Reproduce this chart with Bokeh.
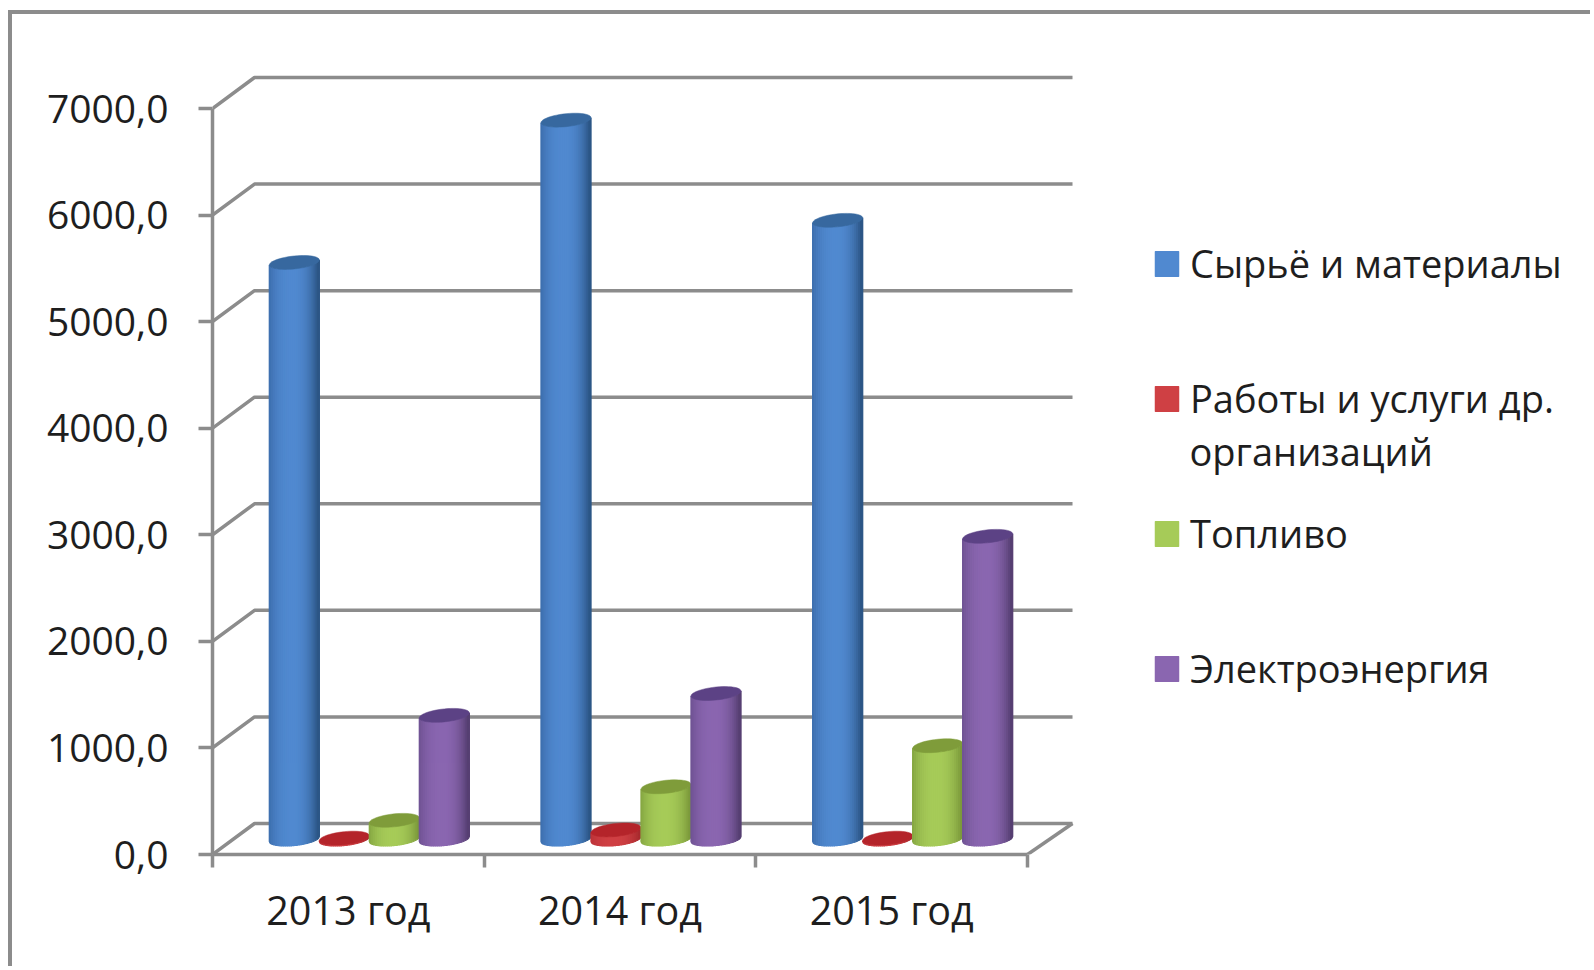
import math
from bokeh.embed import file_html
from bokeh.resources import INLINE
from bokeh.plotting import figure
from bokeh.models import (ColumnDataSource, FixedTicker, LinearAxis, Range1d, Legend, LegendItem, Label)

categories = ["2013 год", "2014 год", "2015 год"]
series_names = ["Сырьё и материалы", "Работы и услуги др.", "Топливо", "Электроэнергия"]
legend_continuation = "организаций"
raw_materials = [5410, 6745, 5805]
services = [8, 85, 8]
fuel = [175, 490, 875]
electricity = [1160, 1365, 2840]
value_ticks = [0, 1000, 2000, 3000, 4000, 5000, 6000, 7000]
value_labels = ["0,0", "1000,0", "2000,0", "3000,0", "4000,0", "5000,0", "6000,0", "7000,0"]

OX, OY = 12, 14
W, H = 1582, 956
FRAME_L, FRAME_R, FRAME_T, FRAME_B = 212, OX + W, 40, 854
CAT_PX = 271.67
VAL_PX = 746 / 7000
GRAY = "#8c8c8c"
TEXT = "#1e1e1e"
FONT = "Open Sans"

p = figure(width=W, height=H, output_backend="svg", toolbar_location=None,
           x_range=Range1d(0, (FRAME_R - FRAME_L) / CAT_PX),
           y_range=Range1d(0, (FRAME_B - FRAME_T) / VAL_PX),
           min_border_left=FRAME_L - OX, min_border_right=0,
           min_border_top=FRAME_T - OY, min_border_bottom=OY + H - FRAME_B,
           x_axis_location=None, y_axis_location=None)
p.margin = (10, 0, 0, 8)
p.styles = {"border-top": f"4px solid {GRAY}", "border-left": f"4px solid {GRAY}"}
p.grid.visible = False
p.outline_line_color = None
p.background_fill_color = "white"
p.border_fill_color = "white"

dx = 42 / CAT_PX
dy = 31 / VAL_PX
px = 1 / CAT_PX
py = 1 / VAL_PX
n_cat = len(categories)
back_end = n_cat + dx + 3 * px

# walls and floor
xs, ys = [], []
for v in value_ticks:
    xs.append([0, dx, back_end])
    ys.append([v, v + dy, v + dy])
xs.append([n_cat, back_end])
ys.append([0, dy])
p.multi_line(xs, ys, line_color=GRAY, line_width=3.5)

# axes
yaxis = LinearAxis(ticker=FixedTicker(ticks=value_ticks), bounds=(0, 7000))
yaxis.major_label_overrides = dict(zip(value_ticks, value_labels))
yaxis.major_tick_out = 14
yaxis.major_tick_in = 0
yaxis.minor_tick_line_color = None
yaxis.major_label_standoff = 30
yaxis.axis_line_color = GRAY
yaxis.axis_line_width = 3.5
yaxis.major_tick_line_color = GRAY
yaxis.major_tick_line_width = 3.5
yaxis.major_label_text_font = FONT
yaxis.major_label_text_font_size = "39px"
yaxis.major_label_text_color = TEXT
p.add_layout(yaxis, "left")

cat_ticks = [i + 0.5 for i in range(n_cat)]
xaxis = LinearAxis(ticker=FixedTicker(ticks=cat_ticks, minor_ticks=list(range(n_cat + 1))), bounds=(0, n_cat))
xaxis.major_label_overrides = dict(zip(cat_ticks, categories))
xaxis.axis_line_color = GRAY
xaxis.axis_line_width = 3.5
xaxis.major_tick_line_color = None
xaxis.major_tick_out = 0
xaxis.major_tick_in = 0
xaxis.minor_tick_line_color = GRAY
xaxis.minor_tick_line_width = 3.5
xaxis.minor_tick_out = 13
xaxis.minor_tick_in = 0
xaxis.major_label_standoff = 15
xaxis.major_label_text_font = FONT
xaxis.major_label_text_font_size = "39.5px"
xaxis.major_label_text_color = TEXT
p.add_layout(xaxis, "below")

# cylinders
STYLES = [
    dict(c="#5089d0", l="#3a6aa8", r="#2c5686", cap="#37689f"),
    dict(c="#cf4044", l="#b83036", r="#a82a2e", cap="#b4242a"),
    dict(c="#a6cb58", l="#7f9f3e", r="#7c9a3c", cap="#7f9c3a"),
    dict(c="#8a66b0", l="#6a4f8e", r="#563f72", cap="#5c4285"),
]
BAR_PX = 50
A = 25
B = 6.5
K = 0.1
N = 25


def hex2rgb(h):
    return [int(h[i:i + 2], 16) for i in (1, 3, 5)]


def mix(a, b, t):
    ca, cb = hex2rgb(a), hex2rgb(b)
    return "#%02x%02x%02x" % tuple(round(x + (y - x) * t) for x, y in zip(ca, cb))


def arc_y(u):
    return B * math.sqrt(max(0.0, 1 - u * u)) - K * A * u


legend_items = []
for s, values in enumerate([raw_materials, services, fuel, electricity]):
    st = STYLES[s]
    sx, sy, col, cap_x, cap_y = [], [], [], [], []
    for i, v in enumerate(values):
        cx = i + 0.5 + dx / 2 + (s - 1.5) * BAR_PX * px
        base = dy / 2
        top = base + v
        for j in range(N):
            u0 = -1 + 2 * j / N
            u1 = -1 + 2 * (j + 1) / N
            us = [u0 + (u1 - u0) * q / 3 for q in range(4)]
            xpoly = [cx + A * u * px for u in us]
            ybot = [base - arc_y(u) * py for u in us]
            ytop = [top - arc_y(u) * py for u in us]
            sx.append(xpoly + xpoly[::-1])
            sy.append(ybot + ytop[::-1])
            um = (u0 + u1) / 2
            t = max(0.0, 1 - abs(um + 0.05) ** 2.4)
            col.append(mix(st["l"] if um < 0 else st["r"], st["c"], t))
        ts = [2 * math.pi * q / 48 for q in range(48)]
        cap_x.append([cx + A * math.cos(a) * px for a in ts])
        cap_y.append([top + (B * math.sin(a) + K * A * math.cos(a)) * py for a in ts])
    src = ColumnDataSource(dict(xs=sx, ys=sy, col=col))
    r = p.patches("xs", "ys", source=src, fill_color="col", line_color="col", line_width=1.3)
    p.patches(cap_x, cap_y, fill_color=st["cap"], line_color=st["cap"], line_width=0.5)
    legend_items.append(LegendItem(label=series_names[s], renderers=[r], index=N // 2))

legend = Legend(items=legend_items, location=(1155 - FRAME_L - 3, FRAME_B - 694),
                orientation="vertical", glyph_width=29, glyph_height=31, label_standoff=9,
                spacing=83, padding=0, margin=0, border_line_color=None, background_fill_alpha=0,
                label_text_font=FONT, label_text_font_size="38px", label_text_color=TEXT,
                label_height=50)
p.add_layout(legend)

p.add_layout(Label(x=(1189 - FRAME_L) * px, y=(FRAME_B - 450) * py, text=legend_continuation,
                   text_font=FONT, text_font_size="38px", text_color=TEXT, text_baseline="alphabetic"))

open("out.html", "w").write(file_html(p, INLINE))
